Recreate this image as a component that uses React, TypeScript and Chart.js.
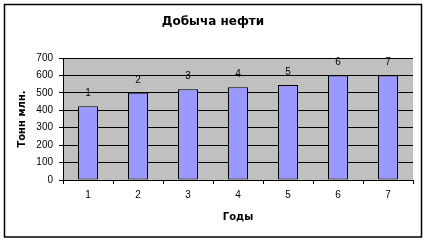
import React, { useEffect, useRef } from "react";
import { Chart, registerables } from "chart.js";

Chart.register(...registerables);

const chartTitle = "Добыча нефти";
const xAxisTitle = "Годы";
const yAxisTitle = "Тонн млн.";
const categories = ["1", "2", "3", "4", "5", "6", "7"];
const values = [423, 500, 520, 532, 545, 600, 600];
const yTicks = [0, 100, 200, 300, 400, 500, 600, 700];

const TICK_FONT = "'Liberation Sans', Arial, sans-serif";
const BOLD_FONT = "'DejaVu Sans', Verdana, sans-serif";

const framePlugin = {
  id: "frame",
  afterLayout(chart: any) {
    if (chart.titleBlock) {
      chart.titleBlock.left = 0;
      chart.titleBlock.right = chart.width;
    }
  },
  beforeDraw(chart: any) {
    const { ctx, chartArea } = chart;
    ctx.save();
    ctx.fillStyle = "#ffffff";
    ctx.fillRect(0, 0, chart.width, chart.height);
    ctx.strokeStyle = "#000000";
    ctx.lineWidth = 1.5;
    ctx.strokeRect(4.5, 4.5, 417, 232.5);
    ctx.fillStyle = "#c0c0c0";
    ctx.fillRect(
      chartArea.left,
      chartArea.top,
      chartArea.right - chartArea.left,
      chartArea.bottom - chartArea.top
    );
    ctx.restore();
  },
};

const labelPlugin = {
  id: "barLabels",
  afterDatasetsDraw(chart: any) {
    const { ctx } = chart;
    const meta = chart.getDatasetMeta(0);
    ctx.save();
    ctx.fillStyle = "#000000";
    ctx.font = `10px ${TICK_FONT}`;
    ctx.textAlign = "center";
    ctx.textBaseline = "middle";
    meta.data.forEach((bar: any, i: number) => {
      ctx.fillText(String(chart.data.labels[i]), bar.x, bar.y - 13);
    });
    ctx.restore();
  },
};

export default function App() {
  const ref = useRef<HTMLCanvasElement>(null);
  useEffect(() => {
    document.body.style.margin = "0";
    const chart = new Chart(ref.current as HTMLCanvasElement, {
      type: "bar",
      data: {
        labels: categories,
        datasets: [
          {
            data: values,
            backgroundColor: "#9999ff",
            borderColor: "#000000",
            borderWidth: 1,
            borderSkipped: false,
            categoryPercentage: 1,
            barPercentage: 0.4,
          },
        ],
      },
      options: {
        responsive: false,
        animation: false,
        layout: { padding: { left: 0, right: 13, top: 0, bottom: 0 } },
        plugins: {
          legend: { display: false },
          tooltip: { enabled: false },
          title: {
            display: true,
            text: chartTitle,
            color: "#000000",
            font: { family: BOLD_FONT, size: 12, weight: "bold", lineHeight: 1.2 },
            padding: { top: 15, bottom: 28.6 },
          },
        },
        scales: {
          x: {
            grid: {
              display: true,
              drawOnChartArea: false,
              drawTicks: true,
              tickLength: 4,
              color: "#000000",
              offset: true,
            },
            border: { color: "#000000", width: 1 },
            ticks: {
              color: "#000000",
              font: { family: TICK_FONT, size: 10 },
              padding: 5,
              maxRotation: 0,
            },
            title: {
              display: true,
              text: xAxisTitle,
              color: "#000000",
              font: { family: BOLD_FONT, size: 10, weight: "bold", lineHeight: 1.2 },
              padding: { top: 0, bottom: 18 },
            },
            afterFit(scale: any) {
              scale.height = 61;
            },
          },
          y: {
            min: 0,
            max: 700,
            afterBuildTicks(scale: any) {
              scale.ticks = yTicks.map((v) => ({ value: v }));
            },
            grid: {
              color: "#000000",
              lineWidth: 1,
              tickLength: 4,
              drawTicks: true,
            },
            border: { color: "#000000", width: 1 },
            ticks: {
              color: "#000000",
              font: { family: TICK_FONT, size: 10 },
              padding: 6,
            },
            title: {
              display: true,
              text: yAxisTitle,
              color: "#000000",
              font: { family: BOLD_FONT, size: 10, weight: "bold", lineHeight: 1.2 },
              padding: { top: 16.5, bottom: 0 },
            },
            afterFit(scale: any) {
              scale.width = 63;
            },
          },
        },
      },
      plugins: [framePlugin, labelPlugin],
    });
    return () => chart.destroy();
  }, []);
  return <canvas ref={ref} width={426} height={241} style={{ display: "block" }} />;
}
